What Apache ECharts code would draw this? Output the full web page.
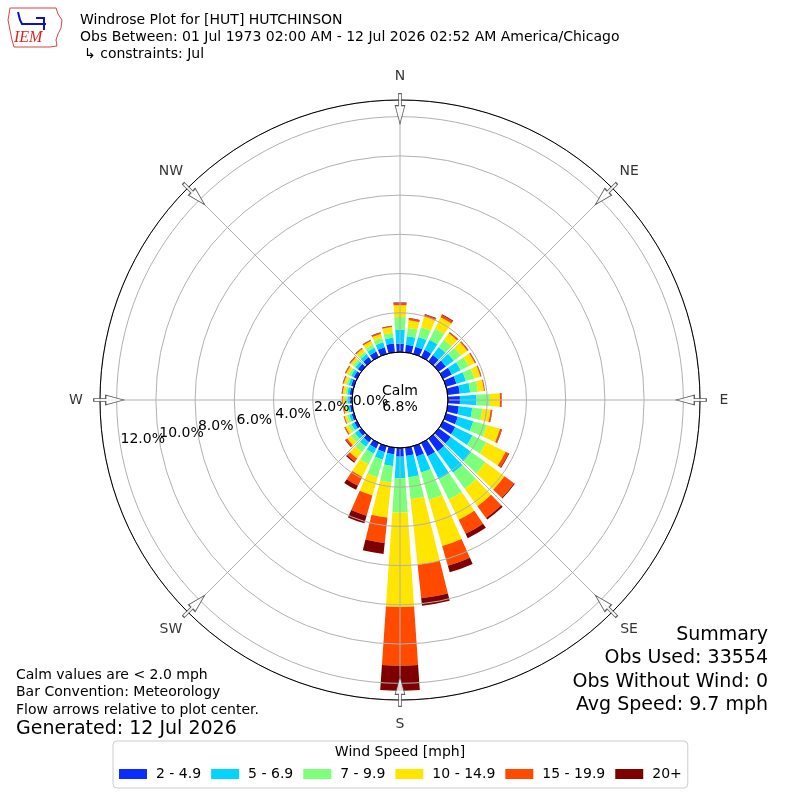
<!DOCTYPE html>
<html><head><meta charset="utf-8">
<script src="https://cdn.jsdelivr.net/npm/echarts@6/dist/echarts.min.js"></script>
<style>html,body{margin:0;padding:0;background:#fff}#c{width:800px;height:800px}</style>
</head><body><div id="c"></div>
<script>
// ---- data ----
const directions = ['0','10','20','30','40','50','60','70','80','90','100','110','120','130','140','150','160','170',
  '180','190','200','210','220','230','240','250','260','270','280','290','300','310','320','330','340','350'];
const speedBins = ['2 - 4.9','5 - 6.9','7 - 9.9','10 - 14.9','15 - 19.9','20+'];
const binColors = ['#0a2cff','#00d4ff','#7dff7a','#ffe600','#ff4a00','#7f0000'];
// percent of observations per direction for each speed bin
const pct2to5   = [0.42,0.38,0.38,0.40,0.40,0.45,0.50,0.55,0.62,0.61,0.57,0.62,0.69,0.76,0.80,0.75,0.55,0.42,
                   0.44,0.33,0.32,0.30,0.22,0.18,0.15,0.12,0.12,0.13,0.13,0.15,0.18,0.22,0.26,0.30,0.35,0.45];
const pct5to7   = [0.73,0.44,0.52,0.58,0.50,0.50,0.50,0.50,0.53,0.85,0.69,0.82,0.98,1.29,1.35,1.30,0.85,1.10,
                   1.10,0.61,0.40,0.30,0.28,0.22,0.17,0.13,0.10,0.11,0.12,0.13,0.15,0.16,0.19,0.22,0.27,0.29];
const pct7to10  = [0.63,0.43,0.52,0.62,0.45,0.45,0.45,0.45,0.40,0.68,0.52,0.72,0.78,0.90,1.00,1.15,1.45,1.12,
                   1.75,0.84,0.93,0.60,0.35,0.25,0.16,0.12,0.10,0.11,0.11,0.12,0.13,0.15,0.15,0.18,0.22,0.26];
const pct10to15 = [0.61,0.39,0.56,0.65,0.41,0.40,0.35,0.32,0.31,0.51,0.42,0.70,1.10,1.20,1.10,1.15,2.45,3.36,
                   4.82,1.80,0.97,0.72,0.40,0.23,0.17,0.13,0.11,0.12,0.13,0.14,0.15,0.15,0.18,0.20,0.22,0.29];
const pct15to20 = [0.09,0.09,0.10,0.13,0.07,0.06,0.05,0.04,0.04,0.07,0.07,0.09,0.17,0.60,0.75,0.80,1.05,1.72,
                   2.99,1.30,1.07,0.50,0.20,0.10,0.05,0.04,0.03,0.04,0.04,0.04,0.05,0.05,0.05,0.06,0.06,0.05];
const pct20plus = [0.05,0.03,0.04,0.04,0.02,0.02,0.02,0.02,0.01,0.02,0.02,0.02,0.04,0.05,0.10,0.25,0.35,0.38,
                   1.28,0.57,0.41,0.23,0.07,0.04,0.02,0.01,0.02,0.01,0.02,0.02,0.02,0.02,0.02,0.02,0.03,0.02];
const binSeries = [pct2to5, pct5to7, pct7to10, pct10to15, pct15to20, pct20plus];
const compassNames = ['N','NE','E','SE','S','SW','W','NW'];
const compassAngles = [0,45,90,135,180,225,270,315];
const radiusTicks = [0,2,4,6,8,10,12];
const RMAX = 12.85;
const calmPct = '6.8%';
const summaryLines = ['Summary','Obs Used: 33554','Obs Without Wind: 0','Avg Speed: 9.7 mph'];
const noteLines = ['Calm values are < 2.0 mph','Bar Convention: Meteorology','Flow arrows relative to plot center.'];
const generatedLine = 'Generated: 12 Jul 2026';
const titleLines = ['Windrose Plot for [HUT] HUTCHINSON',
  'Obs Between: 01 Jul 1973 02:00 AM - 12 Jul 2026 02:52 AM America/Chicago',
  '\u21b3 constraints: Jul'];

// ---- chart ----
const FONT = 'DejaVu Sans';
const chart = echarts.init(document.getElementById('c'), null, {renderer:'canvas'});
const hiddenAxis = {axisLine:{show:false},axisTick:{show:false},axisLabel:{show:false},splitLine:{show:false}};
const pxToVal = (px) => RMAX * (px - 48) / (300 - 48);
const ARROW_R = pxToVal(291.3);
const LABEL_R = pxToVal(324);
const arrowPath = 'path://M6,0 L11,0 L11,12 L17,12 L8.5,30 L0,12 L6,12 Z';

const series = speedBins.map((name, i) => ({
  name, type:'bar', coordinateSystem:'polar', polarIndex:0, stack:'wind',
  data: binSeries[i], barCategoryGap:'22%', itemStyle:{color:binColors[i]}, z:2, silent:true
}));
series.push({
  type:'scatter', coordinateSystem:'polar', polarIndex:1, z:10, silent:true, clip:false,
  symbol: arrowPath, symbolSize:[17,30], symbolKeepAspect:true,
  symbolRotate: (v) => -v[1],
  itemStyle:{color:'#ffffff', borderColor:'#333333', borderWidth:1},
  data: compassAngles.map(a => [ARROW_R, a])
});
series.push({
  type:'scatter', coordinateSystem:'polar', polarIndex:1, z:10, silent:true, clip:false,
  symbol:'circle', symbolSize:1, itemStyle:{color:'rgba(0,0,0,0)'},
  label:{show:true, position:'inside', color:'#000', fontSize:14, fontFamily:FONT,
    formatter:(p) => compassNames[p.dataIndex]},
  data: compassAngles.map(a => [LABEL_R, a])
});

const textEl = (text, x, y, size, align) => ({
  type:'text', x, y, silent:true, z:20,
  style:{text, fill:'#000', fontSize:size, fontFamily:FONT, align:align||'left', verticalAlign:'middle'}
});

const graphics = [];
titleLines.forEach((t,i) => graphics.push(textEl(t, i===2 ? 84 : 80, 20 + i*17, 14)));
noteLines.forEach((t,i) => graphics.push(textEl(t, 16, 675 + i*17.5, 14)));
graphics.push(textEl(generatedLine, 16, 729, 19));
summaryLines.forEach((t,i) => graphics.push(textEl(t, 768, 635 + i*23.5, 19, 'right')));
graphics.push(textEl('Calm', 400, 391, 14, 'center'));
graphics.push(textEl(calmPct, 400, 407, 14, 'center'));
graphics.push(textEl('Wind Speed [mph]', 400, 752, 14, 'center'));
// IEM logo
graphics.push({type:'polyline', silent:true, shape:{points:[[10,8],[56,8],[58,14],[62,20],[61,28],[58,34],[56,40],[57,46],[50,47],[14,47],[12,40],[10,30],[8,20],[10,8]]},
  style:{stroke:'#e04040', fill:'none', lineWidth:1}});
graphics.push({type:'text', x:14, y:38, silent:true, style:{text:'IEM', fill:'#e02020', fontSize:16, fontFamily:'Liberation Serif', fontStyle:'italic', verticalAlign:'middle'}});
graphics.push({type:'polyline', silent:true, shape:{points:[[18,12],[20,20],[22,24],[46,24]]}, style:{stroke:'#1010c0', fill:'none', lineWidth:2}});
graphics.push({type:'polyline', silent:true, shape:{points:[[36,18],[44,18],[44,30]]}, style:{stroke:'#1010c0', fill:'none', lineWidth:2}});

chart.setOption({
  animation:false,
  textStyle:{fontFamily:FONT},
  polar:[
    {center:[400,400], radius:[48,300]},
    {center:[400,400], radius:[48,300]},
    {center:[400,400], radius:[48,300]},
    {center:[400,400], radius:[0,48]}
  ],
  angleAxis:[
    Object.assign({polarIndex:0, type:'category', data:directions, startAngle:95, clockwise:true}, hiddenAxis),
    {polarIndex:1, type:'value', min:0, max:360, interval:45, startAngle:90, clockwise:true, z:5,
     axisLine:{show:true, lineStyle:{color:'#000', width:1}},
     axisTick:{show:false}, axisLabel:{show:false},
     splitLine:{show:true, lineStyle:{color:'#b0b0b0', width:1}}},
    Object.assign({polarIndex:2, type:'value', min:0, max:360, startAngle:189.5, clockwise:true}, hiddenAxis),
    {polarIndex:3, type:'value', min:0, max:360, startAngle:90, clockwise:true, z:6,
     axisLine:{show:true, lineStyle:{color:'#000', width:1}}, axisTick:{show:false}, axisLabel:{show:false}, splitLine:{show:false}}
  ],
  radiusAxis:[
    {polarIndex:0, type:'value', min:0, max:RMAX, interval:2, z:5,
     axisLine:{show:false}, axisTick:{show:false}, axisLabel:{show:false},
     splitLine:{show:true, lineStyle:{color:'#b0b0b0', width:1}}},
    Object.assign({polarIndex:1, type:'value', min:0, max:RMAX, interval:2}, hiddenAxis),
    {polarIndex:2, type:'value', min:0, max:RMAX, interval:2, z:8,
     axisLine:{show:false}, axisTick:{show:false}, splitLine:{show:false},
     axisLabel:{show:true, margin:0, showMaxLabel:false, align:'left', verticalAlign:'bottom',
       color:'#000', fontSize:14, fontFamily:FONT,
       formatter:(v) => radiusTicks.indexOf(v) >= 0 ? v.toFixed(1) + '%' : ''}},
    Object.assign({polarIndex:3, type:'value', min:0, max:1}, hiddenAxis)
  ],
  legend:{
    data: speedBins, left:113, top:741, orient:'horizontal', selectedMode:false,
    icon:'rect', itemWidth:28, itemHeight:10, itemGap:10,
    padding:[26,6,7,6], borderColor:'#cccccc', borderWidth:1, borderRadius:4,
    textStyle:{fontSize:14, fontFamily:FONT, color:'#000', padding:[0,0,0,4]}
  },
  series,
  graphic: graphics
});
</script></body></html>
